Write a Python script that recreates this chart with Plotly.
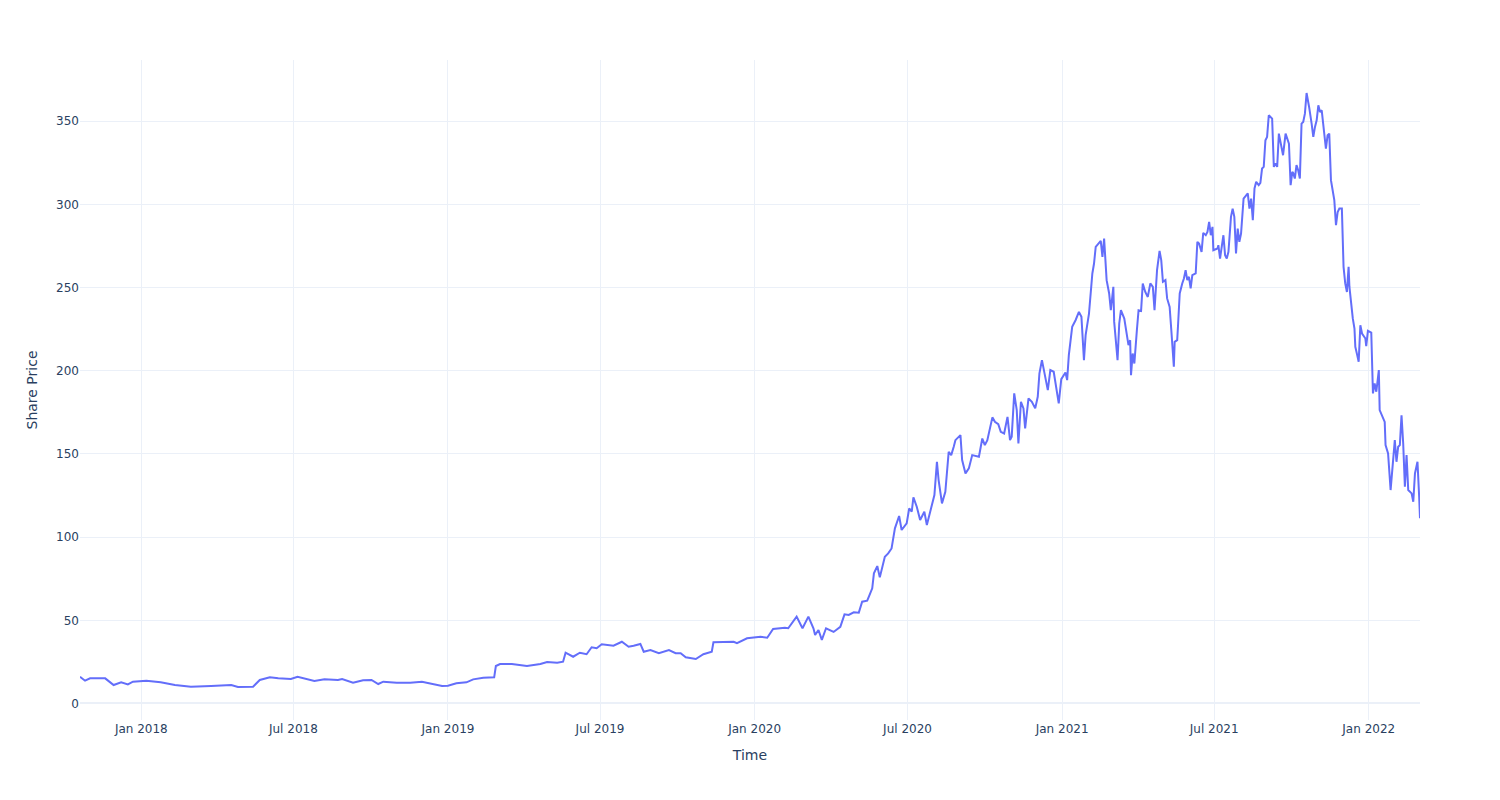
import plotly.graph_objects as go

dates = [
    "2017-10-20", "2017-10-26", "2017-11-01", "2017-11-19", "2017-11-29", "2017-12-08",
    "2017-12-16", "2017-12-22", "2018-01-07", "2018-01-24", "2018-02-10", "2018-03-01",
    "2018-03-25", "2018-04-18", "2018-04-26", "2018-05-14", "2018-05-22", "2018-06-03",
    "2018-06-13", "2018-06-28", "2018-07-06", "2018-07-26", "2018-08-07", "2018-08-23",
    "2018-08-28", "2018-09-10", "2018-09-22", "2018-10-02", "2018-10-10", "2018-10-16",
    "2018-11-01", "2018-11-17", "2018-12-01", "2018-12-11", "2018-12-25", "2019-01-01",
    "2019-01-11", "2019-01-23", "2019-01-31", "2019-02-12", "2019-02-25", "2019-02-27",
    "2019-03-04", "2019-03-18", "2019-04-05", "2019-04-21", "2019-04-29", "2019-05-11",
    "2019-05-18", "2019-05-21", "2019-05-30", "2019-06-07", "2019-06-15", "2019-06-21",
    "2019-06-27", "2019-07-03", "2019-07-17", "2019-07-27", "2019-08-04", "2019-08-10",
    "2019-08-18", "2019-08-22", "2019-08-30", "2019-09-09", "2019-09-21", "2019-09-29",
    "2019-10-05", "2019-10-11", "2019-10-23", "2019-11-01", "2019-11-11", "2019-11-13",
    "2019-11-25", "2019-12-07", "2019-12-11", "2019-12-23", "2020-01-08", "2020-01-16",
    "2020-01-23", "2020-02-06", "2020-02-10", "2020-02-20", "2020-02-25", "2020-02-27",
    "2020-03-05", "2020-03-11", "2020-03-13", "2020-03-17", "2020-03-21", "2020-03-26",
    "2020-04-04", "2020-04-12", "2020-04-17", "2020-04-22", "2020-04-28", "2020-05-04",
    "2020-05-08", "2020-05-14", "2020-05-16", "2020-05-20", "2020-05-22", "2020-05-26",
    "2020-05-29", "2020-06-01", "2020-06-04", "2020-06-08", "2020-06-12", "2020-06-16",
    "2020-06-21", "2020-06-24", "2020-06-30", "2020-07-03", "2020-07-06", "2020-07-08",
    "2020-07-12", "2020-07-16", "2020-07-21", "2020-07-24", "2020-07-30", "2020-08-02",
    "2020-08-05", "2020-08-07", "2020-08-11", "2020-08-15", "2020-08-19", "2020-08-22",
    "2020-08-25", "2020-08-27", "2020-09-02", "2020-09-04", "2020-09-08", "2020-09-12",
    "2020-09-16", "2020-09-21", "2020-09-24", "2020-09-28", "2020-10-01", "2020-10-04",
    "2020-10-10", "2020-10-13", "2020-10-17", "2020-10-20", "2020-10-24", "2020-10-28",
    "2020-10-31", "2020-11-02", "2020-11-05", "2020-11-08", "2020-11-10", "2020-11-13",
    "2020-11-16", "2020-11-18", "2020-11-22", "2020-11-26", "2020-11-30", "2020-12-03",
    "2020-12-05", "2020-12-08", "2020-12-11", "2020-12-15", "2020-12-18", "2020-12-22",
    "2020-12-28", "2020-12-31", "2021-01-05", "2021-01-07", "2021-01-09", "2021-01-13",
    "2021-01-17", "2021-01-21", "2021-01-24", "2021-01-27", "2021-01-29", "2021-02-02",
    "2021-02-06", "2021-02-08", "2021-02-10", "2021-02-14", "2021-02-16", "2021-02-18",
    "2021-02-20", "2021-02-23", "2021-02-26", "2021-02-28", "2021-03-03", "2021-03-04",
    "2021-03-07", "2021-03-08", "2021-03-10", "2021-03-12", "2021-03-16", "2021-03-19",
    "2021-03-21", "2021-03-23", "2021-03-24", "2021-03-26", "2021-03-28", "2021-03-31",
    "2021-04-02", "2021-04-05", "2021-04-07", "2021-04-10", "2021-04-13", "2021-04-16",
    "2021-04-19", "2021-04-21", "2021-04-24", "2021-04-27", "2021-04-29", "2021-05-01",
    "2021-05-04", "2021-05-06", "2021-05-09", "2021-05-11", "2021-05-14", "2021-05-15",
    "2021-05-18", "2021-05-19", "2021-05-21", "2021-05-24", "2021-05-26", "2021-05-28",
    "2021-05-30", "2021-06-01", "2021-06-03", "2021-06-05", "2021-06-09", "2021-06-11",
    "2021-06-13", "2021-06-16", "2021-06-18", "2021-06-21", "2021-06-23", "2021-06-25",
    "2021-06-27", "2021-06-29", "2021-06-30", "2021-07-05", "2021-07-06", "2021-07-08",
    "2021-07-10", "2021-07-12", "2021-07-14", "2021-07-16", "2021-07-18", "2021-07-21",
    "2021-07-23", "2021-07-25", "2021-07-27", "2021-07-29", "2021-07-31", "2021-08-02",
    "2021-08-05", "2021-08-08", "2021-08-10", "2021-08-12", "2021-08-14", "2021-08-16",
    "2021-08-18", "2021-08-20", "2021-08-23", "2021-08-25", "2021-08-27", "2021-08-29",
    "2021-08-31", "2021-09-02", "2021-09-04", "2021-09-08", "2021-09-10", "2021-09-12",
    "2021-09-14", "2021-09-16", "2021-09-18", "2021-09-21", "2021-09-24", "2021-09-27",
    "2021-09-28", "2021-09-30", "2021-10-02", "2021-10-03", "2021-10-05", "2021-10-07",
    "2021-10-09", "2021-10-11", "2021-10-13", "2021-10-15", "2021-10-17", "2021-10-19",
    "2021-10-21", "2021-10-22", "2021-10-25", "2021-10-27", "2021-10-29", "2021-10-31",
    "2021-11-02", "2021-11-04", "2021-11-06", "2021-11-08", "2021-11-11", "2021-11-13",
    "2021-11-15", "2021-11-17", "2021-11-19", "2021-11-21", "2021-11-23", "2021-11-25",
    "2021-11-27", "2021-11-30", "2021-12-02", "2021-12-04", "2021-12-06", "2021-12-08",
    "2021-12-09", "2021-12-11", "2021-12-13", "2021-12-15", "2021-12-16", "2021-12-18",
    "2021-12-20", "2021-12-22", "2021-12-24", "2021-12-28", "2021-12-29", "2021-12-31",
    "2022-01-04", "2022-01-06", "2022-01-08", "2022-01-10", "2022-01-13", "2022-01-14",
    "2022-01-17", "2022-01-20", "2022-01-21", "2022-01-24", "2022-01-27", "2022-01-29",
    "2022-02-01", "2022-02-03", "2022-02-05", "2022-02-07", "2022-02-09", "2022-02-11",
    "2022-02-13", "2022-02-15", "2022-02-17", "2022-02-21", "2022-02-23", "2022-02-25",
    "2022-02-28", "2022-03-02", "2022-03-03",
]

prices = [
    16.0, 13.7, 15.1, 15.1, 11.1, 12.7,
    11.5, 13.1, 13.7, 12.7, 11.1, 10.1,
    10.5, 11.1, 9.9, 10.1, 14.1, 15.7,
    15.1, 14.7, 16.1, 13.5, 14.5, 14.1,
    14.7, 12.5, 13.9, 14.1, 11.7, 13.1,
    12.5, 12.5, 13.1, 12.1, 10.5, 10.7,
    12.1, 12.7, 14.5, 15.5, 15.7, 22.5,
    23.7, 23.7, 22.5, 23.7, 24.9, 24.5,
    25.1, 30.5, 28.1, 30.5, 29.6, 33.8,
    33.2, 35.6, 34.7, 37.1, 34.1, 34.7,
    35.8, 31.1, 32.1, 30.2, 32.1, 30.2,
    30.2, 27.8, 26.7, 29.6, 31.1, 36.8,
    37.1, 37.1, 36.2, 39.2, 40.1, 39.5,
    44.8, 45.5, 45.2, 52.2, 47.2, 45.2,
    52.2, 45.2, 41.2, 44.2, 38.2, 45.2,
    43.0, 46.1, 53.6, 53.2, 54.8, 54.6,
    61.2, 61.8, 64.2, 69.2, 78.2, 82.6,
    75.8, 82.6, 88.2, 90.2, 93.2, 105.3,
    112.7, 104.3, 108.3, 117.3, 115.3, 123.9,
    118.3, 110.3, 115.3, 107.3, 118.3, 125.3,
    145.3, 134.3, 120.3, 127.3, 151.3, 149.3,
    154.3, 158.3, 161.3, 146.3, 138.3, 141.3,
    149.3, 148.7, 148.3, 159.3, 155.3, 158.3,
    172.0, 169.3, 167.9, 163.3, 162.3, 172.3,
    158.3, 160.3, 186.4, 176.4, 156.3, 181.4,
    177.4, 165.4, 183.4, 181.4, 177.4, 184.4,
    198.4, 206.4, 198.4, 188.4, 200.4, 199.4,
    180.4, 195.0, 199.0, 194.4, 209.4, 226.4,
    230.4, 235.4, 232.4, 206.4, 221.4, 234.4,
    258.5, 264.5, 274.5, 276.9, 278.1, 268.5,
    279.5, 254.5, 246.5, 236.4, 250.5, 229.4,
    214.4, 206.4, 228.4, 236.4, 231.4, 220.4,
    215.4, 218.4, 197.4, 210.4, 204.4, 224.4,
    236.4, 236.0, 252.5, 247.4, 244.4, 252.5,
    250.5, 236.4, 260.5, 272.1, 266.5, 253.5,
    254.5, 243.5, 238.4, 224.4, 202.4, 217.4,
    218.4, 227.4, 246.5, 252.5, 255.5, 260.5,
    254.5, 256.5, 249.5, 257.5, 258.5, 277.5,
    276.5, 271.5, 282.9, 281.5, 283.5, 289.5,
    281.5, 286.5, 272.5, 273.5, 275.5, 267.5,
    275.5, 281.5, 269.5, 267.5, 271.5, 292.5,
    297.5, 292.5, 270.5, 285.5, 277.5, 282.5,
    303.5, 305.5, 306.6, 297.5, 303.5, 290.5,
    309.6, 313.6, 311.6, 313.0, 321.6, 322.6,
    338.6, 340.6, 353.6, 351.6, 322.6, 324.6,
    322.6, 342.6, 336.6, 329.6, 342.6, 338.6,
    336.6, 311.6, 319.6, 318.9, 315.6, 323.6,
    320.6, 315.6, 348.6, 349.6, 354.6, 367.0,
    362.6, 358.6, 348.6, 340.6, 346.6, 350.6,
    359.6, 355.6, 356.6, 346.6, 333.6, 341.6,
    342.6, 314.6, 308.6, 302.6, 287.5, 295.5,
    297.5, 297.5, 262.5, 252.5, 247.4, 262.5,
    250.4, 238.4, 231.5, 225.4, 214.4, 210.0,
    205.4, 227.4, 222.4, 219.4, 214.8, 224.0,
    223.0, 186.4, 192.4, 187.4, 200.4, 176.4,
    172.7, 169.3, 155.3, 150.3, 128.3, 140.3,
    158.3, 145.3, 154.3, 155.3, 173.3, 156.3,
    130.3, 149.3, 128.3, 126.3, 121.3, 138.3,
    145.3, 124.3, 111.3,
]

fig = go.Figure(
    go.Scatter(
        x=dates,
        y=prices,
        mode="lines",
        line=dict(color="#636efa", width=2),
        showlegend=False,
    )
)

fig.update_layout(
    template="plotly_white",
    width=1500,
    height=800,
    font=dict(family="DejaVu Sans", color="#2a3f5f"),
    margin=dict(t=60, l=80, r=80, b=80),
    xaxis_title="Time",
    yaxis_title="Share Price",
)

fig.write_html("out.html")
